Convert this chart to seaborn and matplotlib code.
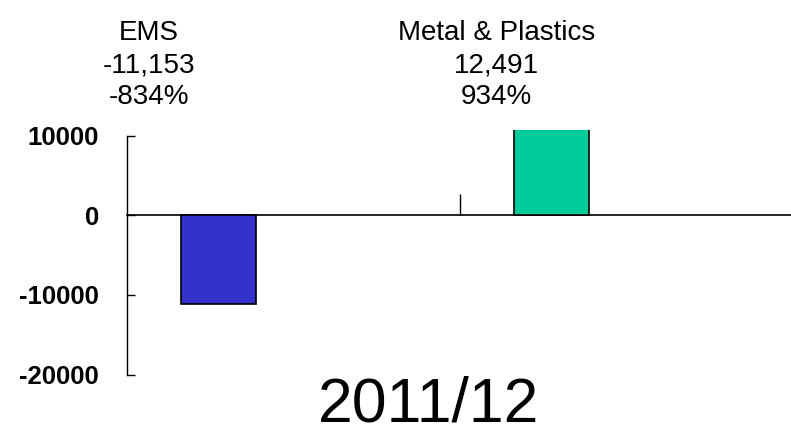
import matplotlib
matplotlib.use("Agg")
import matplotlib.pyplot as plt
import matplotlib.transforms as mtransforms
import seaborn as sns
import pandas as pd

categories = ["EMS", "Metal & Plastics"]
values = [-11153, 12491]
value_labels = ["-11,153", "12,491"]
pct_labels = ["-834%", "934%"]
colors = ["#3333CC", "#00CC99"]
y_ticks = [10000, 0, -10000, -20000]
y_tick_labels = ["10000", "0", "-10000", "-20000"]
period = "2011/12"

sns.set_theme(style="white")
plt.rcParams["font.family"] = ["Liberation Sans", "DejaVu Sans"]
plt.rcParams["text.color"] = "black"
plt.rcParams["xtick.color"] = "black"
plt.rcParams["ytick.color"] = "black"
plt.rcParams["axes.labelcolor"] = "black"

fig = plt.figure(figsize=(7.91, 4.25), dpi=100)
ax = fig.add_axes([127 / 791, (425 - 374.5) / 425, 1 - 127 / 791, (374.5 - 130) / 425])

df = pd.DataFrame({"cat": categories, "val": values})
sns.barplot(data=df, x="cat", y="val", hue="cat", palette=colors, width=0.225,
            edgecolor="black", linewidth=1.2, legend=False, ax=ax, saturation=1)

ax.set_xlim(-0.275, 1.72)
ax.set_ylim(-20000, 10716)
ax.set_xlabel("")
ax.set_ylabel("")

for s in ["top", "right"]:
    ax.spines[s].set_visible(False)
ax.spines["left"].set_bounds(-20000, 10000)
ax.spines["left"].set_color("black")
ax.spines["left"].set_linewidth(1.0)
ax.spines["bottom"].set_position(("data", 0))
ax.spines["bottom"].set_color("black")
ax.spines["bottom"].set_linewidth(1.2)
ax.spines["bottom"].set_zorder(0.5)

ax.set_yticks(y_ticks)
ax.set_yticklabels(y_tick_labels, fontsize=18.5, fontweight="bold", color="black")
ax.tick_params(axis="y", direction="in", length=6, width=1, color="black",
               labelcolor="black", pad=20, left=True)
ax.set_xticks([0.725])
ax.set_xticklabels([""])
ax.tick_params(axis="x", direction="in", length=15, width=1, color="black", bottom=True)

text_offsets = [-0.21, -0.165]
blend = mtransforms.blended_transform_factory(ax.transData, fig.transFigure)
for i in range(len(categories)):
    xpos = i + text_offsets[i]
    for line, ypix in zip([categories[i], value_labels[i], pct_labels[i]], [33, 65, 97]):
        ax.text(xpos, 1 - ypix / 425, line, transform=blend,
                ha="center", va="center", fontsize=20, color="black")

fig.text(429 / 791, 1 - 422 / 425, period, ha="center", va="baseline",
         fontsize=45, color="black")

fig.savefig("out.png", dpi=100)
